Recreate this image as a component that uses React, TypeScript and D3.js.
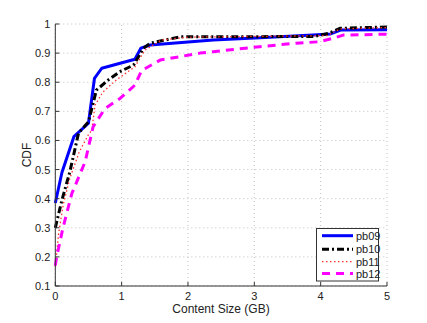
import React from "react";
import * as d3 from "d3";

const xTicks = [0, 1, 2, 3, 4, 5];
const yTicks = [0.1, 0.2, 0.3, 0.4, 0.5, 0.6, 0.7, 0.8, 0.9, 1];

const pb09: [number, number][] = [
  [0, 0.385], [0.1, 0.49], [0.28, 0.613], [0.5, 0.659], [0.59, 0.813], [0.7, 0.848],
  [1.2, 0.879], [1.29, 0.917], [1.43, 0.928], [2.38, 0.945], [3.09, 0.953],
  [3.88, 0.962], [4.15, 0.966], [4.3, 0.979], [5, 0.98],
];
const pb10: [number, number][] = [
  [0, 0.3], [0.1, 0.395], [0.22, 0.493], [0.35, 0.625], [0.5, 0.664], [0.62, 0.773],
  [0.8, 0.808], [0.97, 0.836], [1.18, 0.859], [1.33, 0.917], [1.43, 0.934],
  [1.88, 0.956], [3.9, 0.957], [4.12, 0.968], [4.29, 0.985], [5, 0.99],
];
const pb11: [number, number][] = [
  [0, 0.166], [0.05, 0.28], [0.12, 0.38], [0.22, 0.47], [0.36, 0.56], [0.5, 0.62],
  [0.55, 0.636], [0.6, 0.722], [0.72, 0.767], [0.92, 0.808], [1.2, 0.853],
  [1.35, 0.91], [1.6, 0.945], [2.0, 0.955], [4.1, 0.96], [4.29, 0.983], [5, 0.988],
];
const pb12: [number, number][] = [
  [0, 0.17], [0.02, 0.2], [0.12, 0.304], [0.25, 0.418], [0.45, 0.527], [0.57, 0.647],
  [0.75, 0.71], [0.98, 0.745], [1.2, 0.79], [1.3, 0.84], [1.58, 0.876],
  [2.18, 0.9], [2.38, 0.905], [3.08, 0.922], [3.63, 0.934], [3.98, 0.939],
  [4.19, 0.951], [4.34, 0.962], [5, 0.965],
];

const seriesNames = ["pb09", "pb10", "pb11", "pb12"];
const seriesData = [pb09, pb10, pb11, pb12];
const seriesColors = ["#0000ff", "#000000", "#ff3333", "#ff00ff"];
const seriesWidths = [3, 3, 1.3, 3];
const seriesDash = ["none", "7,3,2,3", "1.5,2.5", "8,6"];

export default function App() {
  const W = 427, H = 323;
  const x = d3.scaleLinear().domain([0, 5]).range([55.3, 387]);
  const y = d3.scaleLinear().domain([0.1, 1]).range([286, 24]);
  const line = d3.line<[number, number]>().x((d) => x(d[0])).y((d) => y(d[1]));
  const font = "'Liberation Sans', Arial, sans-serif";
  const lx0 = 316.5, ly0 = 228.5, lw = 62, lh = 52.5;
  const rows = [235.7, 249.3, 261.7, 273.5];
  return (
    <svg width={W} height={H} style={{ position: "absolute", left: 0, top: 0, background: "#fff" }} fontFamily={font}>
      <rect width={W} height={H} fill="#fff" />
      {xTicks.map((t) => (
        <line key={"gx" + t} x1={x(t)} x2={x(t)} y1={y(0.1)} y2={y(1)} stroke="#b0b0b0" strokeWidth={0.8} strokeDasharray="1,3" />
      ))}
      {yTicks.map((t) => (
        <line key={"gy" + t} x1={x(0)} x2={x(5)} y1={y(t)} y2={y(t)} stroke="#b0b0b0" strokeWidth={0.8} strokeDasharray="1,3" />
      ))}
      {seriesData.map((d, i) => (
        <path key={seriesNames[i]} d={line(d) || ""} fill="none" stroke={seriesColors[i]} strokeWidth={seriesWidths[i]}
          strokeDasharray={seriesDash[i]} strokeLinejoin="round" />
      ))}
      <line x1={x(0)} x2={x(0)} y1={y(0.1)} y2={y(1)} stroke="#333" strokeWidth={1} />
      <line x1={x(0)} x2={x(5)} y1={y(0.1)} y2={y(0.1)} stroke="#333" strokeWidth={1} />
      {xTicks.map((t) => (
        <g key={"tx" + t}>
          <line x1={x(t)} x2={x(t)} y1={y(0.1)} y2={y(0.1) - 4} stroke="#333" />
          <text x={x(t)} y={y(0.1) + 14} fontSize={11} textAnchor="middle" fill="#222">{t}</text>
        </g>
      ))}
      {yTicks.map((t) => (
        <g key={"ty" + t}>
          <line x1={x(0)} x2={x(0) + 4} y1={y(t)} y2={y(t)} stroke="#333" />
          <text x={x(0) - 5} y={y(t) + 4} fontSize={11} textAnchor="end" fill="#222">{t === 1 ? "1" : t.toFixed(1)}</text>
        </g>
      ))}
      <text x={221} y={313} fontSize={12} textAnchor="middle" fill="#222">Content Size (GB)</text>
      <text transform={`translate(31,155) rotate(-90)`} fontSize={12} textAnchor="middle" fill="#222">CDF</text>
      <rect x={lx0} y={ly0} width={lw} height={lh} fill="#fff" stroke="#333" strokeWidth={1} />
      {seriesNames.map((n, i) => (
        <g key={"lg" + n}>
          <line x1={322} x2={353} y1={rows[i]} y2={rows[i]} stroke={seriesColors[i]} strokeWidth={seriesWidths[i]} strokeDasharray={seriesDash[i]} />
          <text x={356} y={rows[i] + 4} fontSize={11} fill="#222">{n}</text>
        </g>
      ))}
    </svg>
  );
}
